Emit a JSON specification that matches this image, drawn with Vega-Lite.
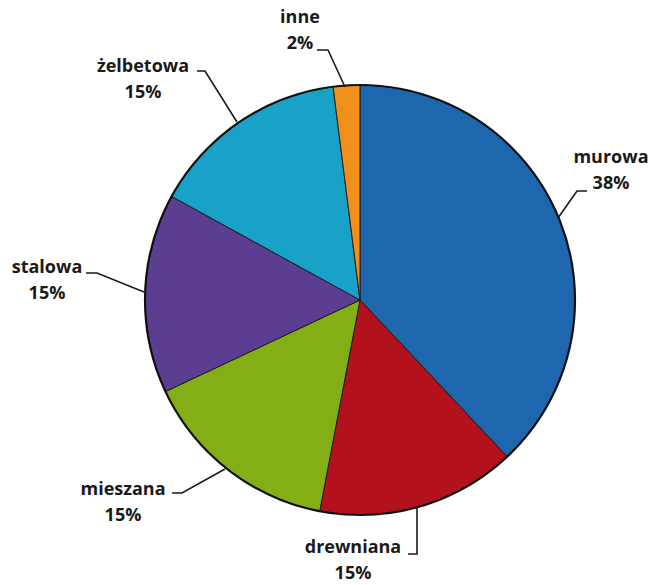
{
  "$schema": "https://vega.github.io/schema/vega-lite/v6.json",
  "width": 664,
  "height": 585,
  "padding": 0,
  "autosize": "none",
  "background": "white",
  "config": {"view": {"stroke": null}},
  "datasets": {
    "slices": [
      {"ord": 1, "name": "murowa", "share": 0.38, "lx": 1.1674, "ly": 0.6605},
      {"ord": 2, "name": "drewniana", "share": 0.15, "lx": -0.0326, "ly": -1.1535},
      {"ord": 3, "name": "mieszana", "share": 0.15, "lx": -1.1023, "ly": -0.8837},
      {"ord": 4, "name": "stalowa", "share": 0.15, "lx": -1.4558, "ly": 0.1488},
      {"ord": 5, "name": "żelbetowa", "share": 0.15, "lx": -1.0093, "ly": 1.0837},
      {"ord": 6, "name": "inne", "share": 0.02, "lx": -0.2791, "ly": 1.3116}
    ],
    "leaders": [
      {"name": "inne", "seq": 1, "px": -0.2000, "py": 1.1628},
      {"name": "inne", "seq": 2, "px": -0.1488, "py": 1.1628},
      {"name": "inne", "seq": 3, "px": -0.0698, "py": 0.9907},
      {"name": "żelbetowa", "seq": 1, "px": -0.7581, "py": 1.0651},
      {"name": "żelbetowa", "seq": 2, "px": -0.7209, "py": 1.0651},
      {"name": "żelbetowa", "seq": 3, "px": -0.5721, "py": 0.8279},
      {"name": "murowa", "seq": 1, "px": 1.0558, "py": 0.5070},
      {"name": "murowa", "seq": 2, "px": 1.0093, "py": 0.5070},
      {"name": "murowa", "seq": 3, "px": 0.9209, "py": 0.3814},
      {"name": "stalowa", "seq": 1, "px": -1.2744, "py": 0.1256},
      {"name": "stalowa", "seq": 2, "px": -1.2233, "py": 0.1256},
      {"name": "stalowa", "seq": 3, "px": -1.0047, "py": 0.0372},
      {"name": "mieszana", "seq": 1, "px": -0.8744, "py": -0.8977},
      {"name": "mieszana", "seq": 2, "px": -0.8279, "py": -0.8977},
      {"name": "mieszana", "seq": 3, "px": -0.6279, "py": -0.7860},
      {"name": "drewniana", "seq": 1, "px": 0.2233, "py": -1.1814},
      {"name": "drewniana", "seq": 2, "px": 0.2651, "py": -1.1814},
      {"name": "drewniana", "seq": 3, "px": 0.2651, "py": -0.9628}
    ]
  },
  "resolve": {"scale": {"x": "shared", "y": "shared"}},
  "layer": [
    {
      "data": {"name": "slices"},
      "mark": {"type": "arc", "outerRadius": 215, "stroke": "#1c1c1c", "strokeWidth": 1},
      "encoding": {
        "x": {"datum": 0, "type": "quantitative", "scale": {"domain": [-1.67442, 1.41395], "nice": false, "zero": false}, "axis": null},
        "y": {"datum": 0, "type": "quantitative", "scale": {"domain": [-1.32558, 1.39535], "nice": false, "zero": false}, "axis": null},
        "theta": {"field": "share", "type": "quantitative", "stack": true},
        "order": {"field": "ord", "type": "quantitative"},
        "color": {
          "field": "name",
          "type": "nominal",
          "legend": null,
          "scale": {
            "domain": ["murowa", "drewniana", "mieszana", "stalowa", "żelbetowa", "inne"],
            "range": ["#1e66ae", "#b3121d", "#84ae16", "#5b3d91", "#19a2c8", "#f0901a"]
          }
        }
      }
    },
    {
      "data": {"values": [{"ring": 1}]},
      "mark": {"type": "arc", "outerRadius": 215, "theta": 0, "theta2": 6.2832, "filled": false, "stroke": "#111111", "strokeWidth": 2.2},
      "encoding": {
        "x": {"datum": 0, "type": "quantitative"},
        "y": {"datum": 0, "type": "quantitative"}
      }
    },
    {
      "data": {"name": "leaders"},
      "mark": {"type": "line", "color": "#1a1a1a", "strokeWidth": 1.6, "clip": false},
      "encoding": {
        "x": {"field": "px", "type": "quantitative"},
        "y": {"field": "py", "type": "quantitative"},
        "detail": {"field": "name"},
        "order": {"field": "seq", "type": "quantitative"}
      }
    },
    {
      "data": {"name": "slices"},
      "mark": {"type": "text", "font": "Open Sans", "fontWeight": "bold", "fontSize": 18, "color": "#1a1a1a", "align": "center", "baseline": "middle"},
      "encoding": {
        "x": {"field": "lx", "type": "quantitative"},
        "y": {"field": "ly", "type": "quantitative"},
        "text": {"field": "name"}
      }
    },
    {
      "data": {"name": "slices"},
      "mark": {"type": "text", "font": "Open Sans", "fontWeight": "bold", "fontSize": 18, "color": "#1a1a1a", "align": "center", "baseline": "middle", "dy": 26},
      "encoding": {
        "x": {"field": "lx", "type": "quantitative"},
        "y": {"field": "ly", "type": "quantitative"},
        "text": {"field": "share", "type": "quantitative", "format": ".0%"}
      }
    }
  ]
}
